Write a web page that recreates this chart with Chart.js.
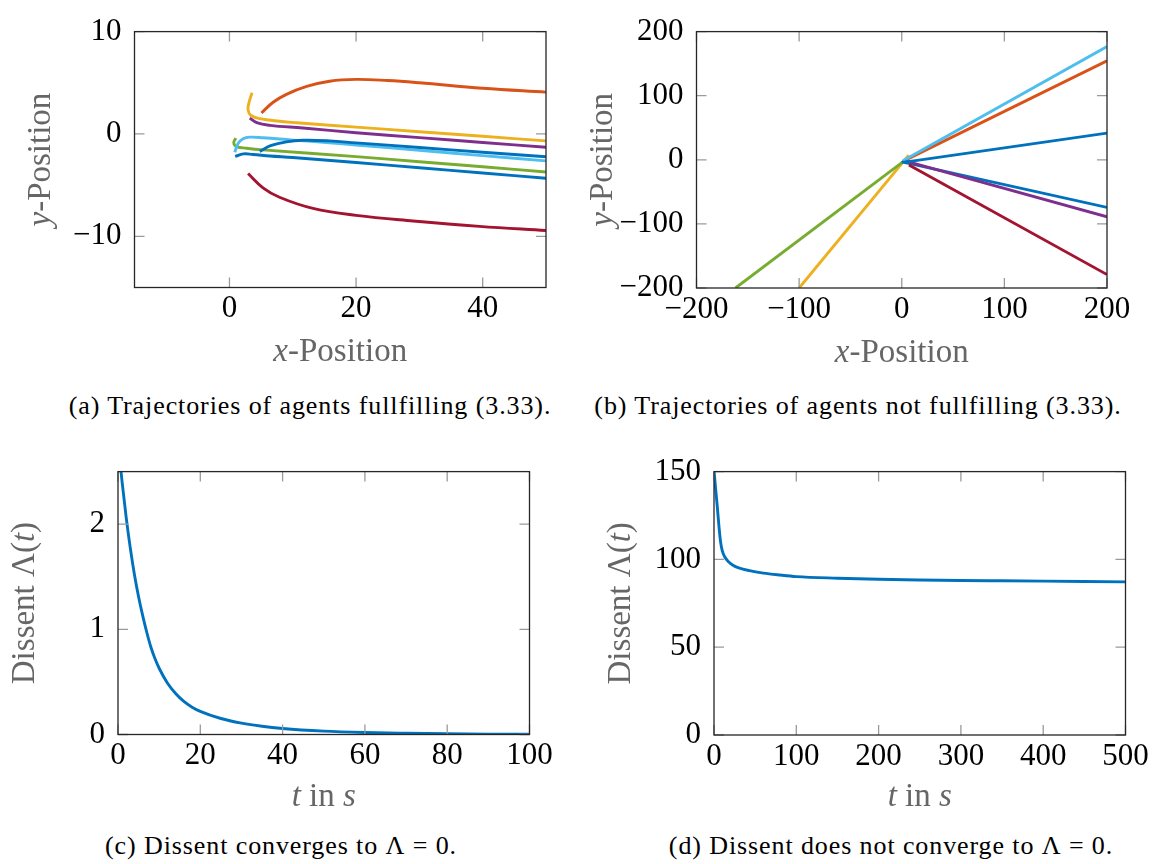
<!DOCTYPE html>
<html>
<head>
<meta charset="utf-8">
<script src="https://cdn.jsdelivr.net/npm/chart.js@4.4.1/dist/chart.umd.min.js"></script>
<style>
  html, body { margin: 0; padding: 0; background: #fff; }
  body { width: 1153px; height: 864px; position: relative; overflow: hidden; font-family: "Liberation Serif"; }
  canvas { position: absolute; }
  .cap { position: absolute; font-family: "Liberation Serif"; font-size: 26px; line-height: 1; color: #000;
         white-space: nowrap; transform: translateX(-50%); letter-spacing: 0.9px; }
</style>
</head>
<body>
<canvas id="ca" width="576" height="380" style="left:0;top:0"></canvas>
<canvas id="cb" width="577" height="380" style="left:576px;top:0"></canvas>
<canvas id="cc" width="576" height="380" style="left:0;top:440px"></canvas>
<canvas id="cd" width="577" height="380" style="left:576px;top:440px"></canvas>

<div class="cap" style="left:310px;top:393px">(a) Trajectories of agents fullfilling (3.33).</div>
<div class="cap" style="left:858px;top:393px">(b) Trajectories of agents not fullfilling (3.33).</div>
<div class="cap" style="left:281px;top:833px">(c) Dissent converges to Λ&#8197;=&#8197;0.</div>
<div class="cap" style="left:891px;top:833px">(d) Dissent does not converge to Λ&#8197;=&#8197;0.</div>

<script>
// ---- agent colours (one per trajectory) ----
const C_BLUE = '#0072BD', C_ORANGE = '#D95319', C_YELLOW = '#EDB120', C_PURPLE = '#7E2F8E',
      C_GREEN = '#77AC30', C_LBLUE = '#4DBEEE', C_DRED = '#A2142F';

// ---- (a) trajectories of agents fulfilling the condition, [x, y] ----
const A_BLUE1  = [[0.9,-2.2],[2.2,-1.95],[3.7,-2.0],[6.4,-2.15],[10,-2.3],[20,-2.79],[30,-3.3],[40,-3.81],[50,-4.33]];
const A_ORANGE = [[5.05,2.05],[6.9,3.1],[9.0,3.87],[12.2,4.64],[15.8,5.15],[20,5.33],[25,5.22],[30,5.0],[40,4.47],[50,4.09]];
const A_YELLOW = [[3.57,4.03],[3.1,3.1],[2.94,2.35],[3.4,1.8],[4.8,1.5],[7.9,1.24],[10.6,1.09],[20,0.67],[30,0.22],[40,-0.23],[50,-0.68]];
const A_PURPLE = [[3.2,1.55],[4.3,1.1],[6.4,0.84],[11.6,0.58],[20,0.12],[30,-0.36],[40,-0.83],[50,-1.3]];
const A_GREEN  = [[1.0,-0.4],[0.68,-0.86],[1.1,-1.23],[2.7,-1.39],[5.3,-1.55],[20,-2.21],[30,-2.71],[40,-3.21],[50,-3.71]];
const A_LBLUE  = [[0.84,-1.79],[1.36,-0.93],[2.15,-0.46],[3.2,-0.31],[5.3,-0.37],[10,-0.6],[15.8,-0.86],[20,-1.08],[30,-1.6],[40,-2.12],[50,-2.63]];
const A_DRED   = [[2.94,-3.86],[5.3,-5.26],[7.9,-6.18],[13.2,-7.27],[20,-7.95],[29,-8.5],[39.5,-9.03],[50,-9.43]];
const A_BLUE2  = [[4.78,-1.7],[6.5,-1.15],[9,-0.77],[11.6,-0.62],[15.8,-0.68],[20,-0.87],[30,-1.32],[40,-1.78],[50,-2.23]];
const A_XTICKS = [0, 20, 40];
const A_YTICKS = [-10, 0, 10];

// ---- (b) trajectories of agents not fulfilling the condition, [x, y] ----
const B_BLUE1  = [[0,-3],[8,-6],[200,-74.3]];
const B_ORANGE = [[2,-1],[8,3],[200,154.5]];
const B_YELLOW = [[6.8,7.4],[-100,-200]];
const B_PURPLE = [[4,-2],[200,-89]];
const B_GREEN  = [[3,-1],[-162,-200]];
const B_LBLUE  = [[1,-2],[6,3],[200,176.8]];
const B_DRED   = [[7,-8],[200,-179]];
const B_BLUE2  = [[0,-4],[10,-2],[200,41.6]];
const B_XTICKS = [-200, -100, 0, 100, 200];
const B_YTICKS = [-200, -100, 0, 100, 200];

// ---- (c) dissent over time, converging ----
const C_T     = [0, 1, 2, 3, 4, 5, 6, 7, 8, 9, 10, 12, 14, 16, 18, 20, 25, 30, 35, 40, 50, 60, 70, 80, 90, 100];
const C_DISS  = [2.78, 2.40, 2.06, 1.77, 1.52, 1.31, 1.13, 0.97, 0.83, 0.72, 0.63, 0.49, 0.39, 0.315, 0.26, 0.22, 0.152, 0.108, 0.078, 0.057, 0.032, 0.019, 0.012, 0.007, 0.004, 0.003];
const C_XTICKS = [0, 20, 40, 60, 80, 100];
const C_YTICKS = [0, 1, 2];

// ---- (d) dissent over time, not converging ----
const D_T     = [0, 2, 4, 6, 8, 10, 13, 18, 23, 30, 43, 60, 80, 100, 150, 200, 250, 300, 350, 400, 450, 500];
const D_DISS  = [151, 140, 130, 119, 110, 105, 101.5, 98.5, 96.7, 95.2, 93.6, 92.2, 91.1, 90.2, 89.3, 88.7, 88.3, 88.0, 87.8, 87.6, 87.4, 87.2];
const D_XTICKS = [0, 100, 200, 300, 400, 500];
const D_YTICKS = [0, 50, 100, 150];

// ---- styling ----
const SERIF = '"Liberation Serif"';
const TICK_FONT = { family: SERIF, size: 31 };
const TITLE_SIZE = 33;
const TITLE_COLOR = '#666666';
const TICK_MARK = 10;

const pts = arr => arr.map(([x, y]) => ({ x, y }));
const zip = (xs, ys) => xs.map((x, i) => ({ x, y: ys[i] }));
const minus = v => String(v).replace('-', '\u2212');

// Inward tick marks on all four sides, the box, and the mixed-style axis titles
const framePlugin = {
  id: 'frame',
  afterDatasetsDraw(chart, args, opts) {
    const { ctx, chartArea: a, scales: { x, y } } = chart;
    ctx.save();
    ctx.strokeStyle = '#9a9a9a';
    ctx.lineWidth = 1.3;
    ctx.beginPath();
    x.ticks.forEach(t => {
      const px = x.getPixelForValue(t.value);
      ctx.moveTo(px, a.bottom); ctx.lineTo(px, a.bottom - TICK_MARK);
      ctx.moveTo(px, a.top); ctx.lineTo(px, a.top + TICK_MARK);
    });
    y.ticks.forEach(t => {
      const py = y.getPixelForValue(t.value);
      ctx.moveTo(a.left, py); ctx.lineTo(a.left + TICK_MARK, py);
      ctx.moveTo(a.right, py); ctx.lineTo(a.right - TICK_MARK, py);
    });
    ctx.stroke();
    ctx.strokeStyle = '#262626';
    ctx.lineWidth = 1.3;
    ctx.strokeRect(a.left, a.top, a.right - a.left, a.bottom - a.top);

    const drawRich = (segs, cx, baseY) => {
      let total = 0;
      const widths = segs.map(([txt, style]) => {
        ctx.font = `${style} ${TITLE_SIZE}px ${SERIF}`;
        const w = ctx.measureText(txt).width; total += w; return w;
      });
      let xx = cx - total / 2;
      segs.forEach(([txt, style], i) => {
        ctx.font = `${style} ${TITLE_SIZE}px ${SERIF}`;
        ctx.fillText(txt, xx, baseY);
        xx += widths[i];
      });
    };
    ctx.fillStyle = TITLE_COLOR;
    ctx.textBaseline = 'alphabetic';
    ctx.textAlign = 'left';
    drawRich(opts.xTitle, (a.left + a.right) / 2, a.bottom + opts.xOffset);
    ctx.translate(a.left - opts.yOffset, (a.top + a.bottom) / 2);
    ctx.rotate(-Math.PI / 2);
    drawRich(opts.yTitle, 0, 0);
    ctx.restore();
  }
};

function axis(min, max, ticks, fitKey, fitVal, pad) {
  return {
    type: 'linear', min, max,
    grid: { display: false, drawTicks: false },
    border: { display: false },
    afterBuildTicks: s => { s.ticks = ticks.map(v => ({ value: v })); },
    afterFit: s => { s[fitKey] = fitVal; },
    ticks: { font: TICK_FONT, color: '#000', padding: pad, autoSkip: false,
             maxRotation: 0, minRotation: 0, callback: minus }
  };
}

function makeChart(id, datasets, xr, yr, xt, yt, box, titles) {
  const cv = document.getElementById(id);
  return new Chart(cv, {
    type: 'line',
    data: { datasets: datasets.map((d, i) => Object.assign({
      borderWidth: 2.9, pointRadius: 0, fill: false, clip: 0, order: -i
    }, d)) },
    options: {
      responsive: false, animation: false, devicePixelRatio: 1,
      layout: { padding: { left: 0, top: box.top, right: box.right, bottom: 0 } },
      plugins: { legend: { display: false }, tooltip: { enabled: false }, frame: titles },
      scales: {
        x: axis(xr[0], xr[1], xt, 'height', box.xh, 3),
        y: axis(yr[0], yr[1], yt, 'width', box.yw, 13)
      }
    },
    plugins: [framePlugin]
  });
}

const T_POS = [['x', 'italic'], ['-Position', 'normal']];
const T_YPOS = [['y', 'italic'], ['-Position', 'normal']];
const T_TIME = [['t', 'italic'], [' in ', 'normal'], ['s', 'italic']];
const T_DISS = [['Dissent \u039B(', 'normal'], ['t', 'italic'], [')', 'normal']];

const curve = (data, color, tension) => ({ data, borderColor: color, tension });

Chart.defaults.font.family = SERIF;

makeChart('ca', [
  curve(pts(A_BLUE1), C_BLUE, 0.4), curve(pts(A_ORANGE), C_ORANGE, 0.4),
  curve(pts(A_YELLOW), C_YELLOW, 0.4), curve(pts(A_PURPLE), C_PURPLE, 0.4),
  curve(pts(A_GREEN), C_GREEN, 0.4), curve(pts(A_LBLUE), C_LBLUE, 0.4),
  curve(pts(A_DRED), C_DRED, 0.4), curve(pts(A_BLUE2), C_BLUE, 0.4)
], [-15, 50], [-15, 10], A_XTICKS, A_YTICKS,
  { top: 19, right: 30, xh: 92.5, yw: 134.5 },
  { xTitle: T_POS, yTitle: T_YPOS, xOffset: 73.5, yOffset: 84.5 });

makeChart('cb', [
  curve(pts(B_BLUE1), C_BLUE, 0), curve(pts(B_ORANGE), C_ORANGE, 0),
  curve(pts(B_YELLOW), C_YELLOW, 0), curve(pts(B_PURPLE), C_PURPLE, 0),
  curve(pts(B_GREEN), C_GREEN, 0), curve(pts(B_LBLUE), C_LBLUE, 0),
  curve(pts(B_DRED), C_DRED, 0), curve(pts(B_BLUE2), C_BLUE, 0)
], [-200, 200], [-200, 200], B_XTICKS, B_YTICKS,
  { top: 19, right: 46, xh: 92, yw: 120.5 },
  { xTitle: T_POS, yTitle: T_YPOS, xOffset: 73.5, yOffset: 84.5 });

makeChart('cc', [
  Object.assign(curve(zip(C_T, C_DISS), C_BLUE, 0), { cubicInterpolationMode: 'monotone' })
], [0, 100], [0, 2.5], C_XTICKS, C_YTICKS,
  { top: 25.5, right: 46.5, xh: 85.5, yw: 118 },
  { xTitle: T_TIME, yTitle: T_DISS, xOffset: 71, yOffset: 84.5 });

makeChart('cd', [
  Object.assign(curve(zip(D_T, D_DISS), C_BLUE, 0), { cubicInterpolationMode: 'monotone' })
], [0, 500], [0, 150], D_XTICKS, D_YTICKS,
  { top: 25.5, right: 27.5, xh: 85, yw: 138 },
  { xTitle: T_TIME, yTitle: T_DISS, xOffset: 71, yOffset: 84.5 });
</script>
</body>
</html>
